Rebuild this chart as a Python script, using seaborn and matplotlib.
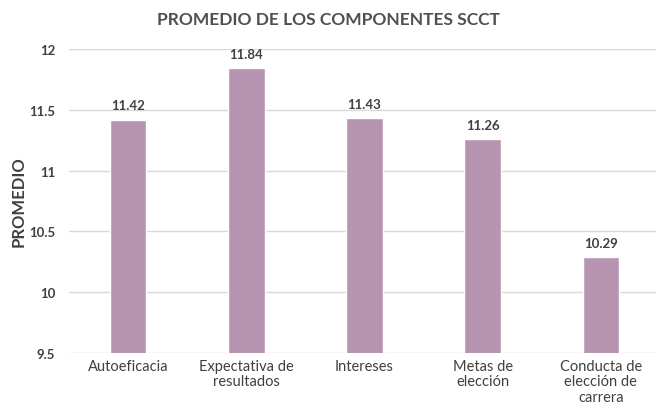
import matplotlib
matplotlib.use("Agg")
import matplotlib.pyplot as plt
import seaborn as sns
import pandas as pd

categories = ["Autoeficacia", "Expectativa de\nresultados", "Intereses", "Metas de\nelección", "Conducta de\nelección de\ncarrera"]
values = [11.42, 11.84, 11.43, 11.26, 10.29]
yticks = [9.5, 10, 10.5, 11, 11.5, 12]
ytick_labels = ["9.5", "10", "10.5", "11", "11.5", "12"]

sns.set_theme(style="white")
plt.rcParams['font.family'] = ['Lato', 'DejaVu Sans']

text_color = "#404040"
bar_color = "#B795B0"

df = pd.DataFrame({"cat": categories, "val": values})

fig = plt.figure(figsize=(6.56, 4.14), dpi=100)
ax = fig.add_axes([69/656, 60/414, (660-69)/656, (354-50)/414])
sns.barplot(data=df, x="cat", y="val", color=bar_color, width=0.31, saturation=1, ax=ax, zorder=3)

ax.set_ylim(9.5, 12)
ax.set_yticks(yticks)
ax.set_yticklabels(ytick_labels, fontsize=9.5, fontweight="bold", color=text_color)
ax.yaxis.grid(True, color="#D9D9D9", linewidth=1, zorder=0)
ax.set_axisbelow(True)
for s in ax.spines.values():
    s.set_visible(False)
ax.tick_params(axis="y", length=0, pad=10)
ax.tick_params(axis="x", length=0, labelsize=10.5, labelcolor=text_color, pad=4)
for t in ax.get_xticklabels():
    t.set_linespacing(1.15)
ax.set_xlabel("")
ax.set_ylabel("PROMEDIO", fontsize=12, fontweight="bold", color=text_color)
ax.yaxis.set_label_coords((27 - 69) / 591, 0.5)

for p, v in zip(ax.patches, values):
    ax.annotate(f"{v:.2f}", (p.get_x() + p.get_width() / 2, v), xytext=(0, 6),
                textcoords="offset points", ha="center", va="bottom",
                fontsize=9.5, fontweight="bold", color=text_color)

fig.text(0.5, 1 - 20/414, "PROMEDIO DE LOS COMPONENTES SCCT", ha="center", va="center",
         fontsize=12.5, fontweight="bold", color="#505050")

fig.savefig("out.png", dpi=100)
